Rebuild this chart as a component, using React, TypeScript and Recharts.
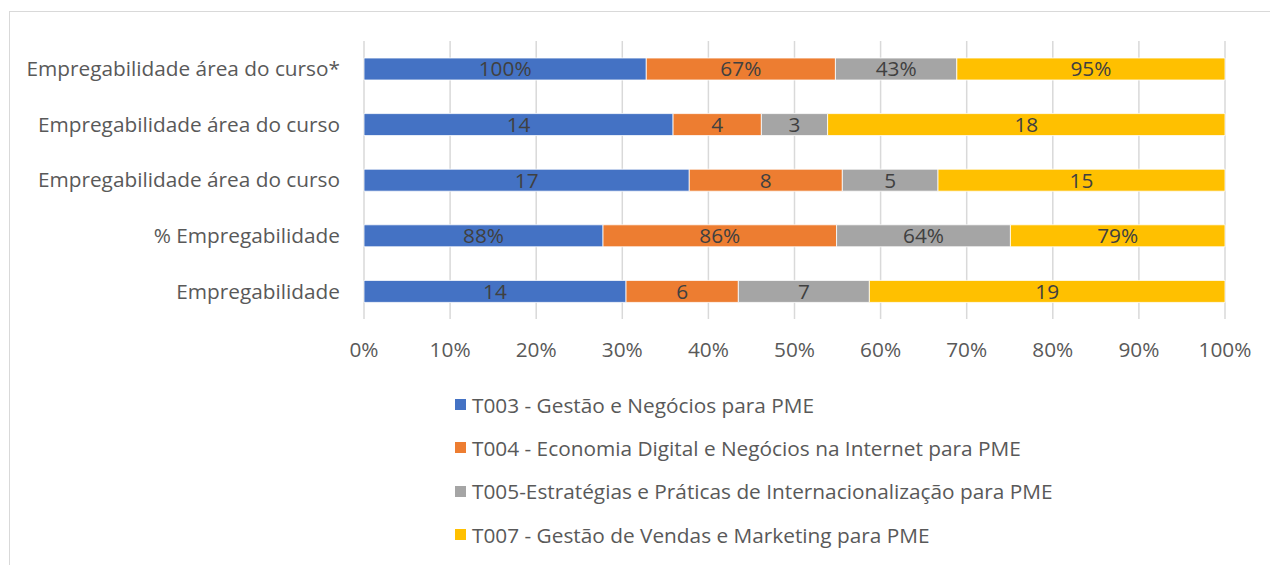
import { BarChart, Bar, XAxis, YAxis, CartesianGrid, LabelList } from "recharts";

const categories = [
  "Empregabilidade área do curso*",
  "Empregabilidade área do curso",
  "Empregabilidade área do curso",
  "% Empregabilidade",
  "Empregabilidade",
];
// rows shown as percentages in the labels
const isPercent = [true, false, false, true, false];

const t003 = [100, 14, 17, 88, 14];
const t004 = [67, 4, 8, 86, 6];
const t005 = [43, 3, 5, 64, 7];
const t007 = [95, 18, 15, 79, 19];

const xTicks = [0, 0.1, 0.2, 0.3, 0.4, 0.5, 0.6, 0.7, 0.8, 0.9, 1];

const series = [
  { key: "t003", name: "T003 - Gestão e Negócios para PME", color: "#4472C4", values: t003 },
  { key: "t004", name: "T004 - Economia Digital e Negócios na Internet para PME", color: "#ED7D31", values: t004 },
  { key: "t005", name: "T005-Estratégias e Práticas de Internacionalização para PME", color: "#A5A5A5", values: t005 },
  { key: "t007", name: "T007 - Gestão de Vendas e Marketing para PME", color: "#FFC000", values: t007 },
];

const data = categories.map((name, i) => {
  const row: Record<string, string | number> = { name };
  series.forEach((s) => {
    row[s.key] = s.values[i];
    row[s.key + "Label"] = isPercent[i] ? `${s.values[i]}%` : `${s.values[i]}`;
  });
  return row;
});

const FONT = "'Open Sans', sans-serif";
const FS = 20.8;

function LegendBox() {
  return (
    <div style={{ position: "absolute", left: 455, top: 383, fontFamily: FONT, fontSize: FS, color: "#595959" }}>
      {series.map((s) => (
        <div key={s.key} style={{ display: "flex", alignItems: "center", height: 43.3, whiteSpace: "nowrap" }}>
          <span style={{ width: 11, height: 11, background: s.color, marginRight: 6, display: "inline-block" }} />
          <span>{s.name}</span>
        </div>
      ))}
    </div>
  );
}

export default function App() {
  return (
    <div style={{ position: "absolute", left: 0, top: 0, width: 1270, height: 565, overflow: "hidden", background: "#fff" }}>
      <div
        style={{
          position: "absolute",
          left: 9,
          top: 11,
          width: 1300,
          height: 600,
          border: "1px solid #d9d9d9",
        }}
      />
      <BarChart
        width={1270}
        height={565}
        data={data}
        layout="vertical"
        stackOffset="expand"
        margin={{ top: 41, right: 45, bottom: 0, left: 0 }}
      >
        <CartesianGrid horizontal={false} stroke="#d9d9d9" strokeWidth={1.5} />
        <XAxis
          type="number"
          domain={[0, 1]}
          ticks={xTicks}
          tickFormatter={(v: number) => `${Math.round(v * 100)}%`}
          axisLine={false}
          tickLine={false}
          tickMargin={17}
          height={246}
          tick={{ fill: "#595959", fontSize: FS, fontFamily: FONT }}
        />
        <YAxis
          type="category"
          dataKey="name"
          width={364}
          axisLine={false}
          tickLine={false}
          tickMargin={18}
          tick={{ fill: "#595959", fontSize: FS, fontFamily: FONT }}
        />
        {series.map((s) => (
          <Bar
            key={s.key}
            dataKey={s.key}
            name={s.name}
            stackId="a"
            fill={s.color}
            stroke="#ffffff"
            strokeWidth={0.8}
            barSize={22}
            isAnimationActive={false}
          >
            <LabelList
              dataKey={s.key + "Label"}
              position="center"
              fill="#404040"
              fontSize={FS}
              fontFamily={FONT}
            />
          </Bar>
        ))}
      </BarChart>
      <LegendBox />
    </div>
  );
}
